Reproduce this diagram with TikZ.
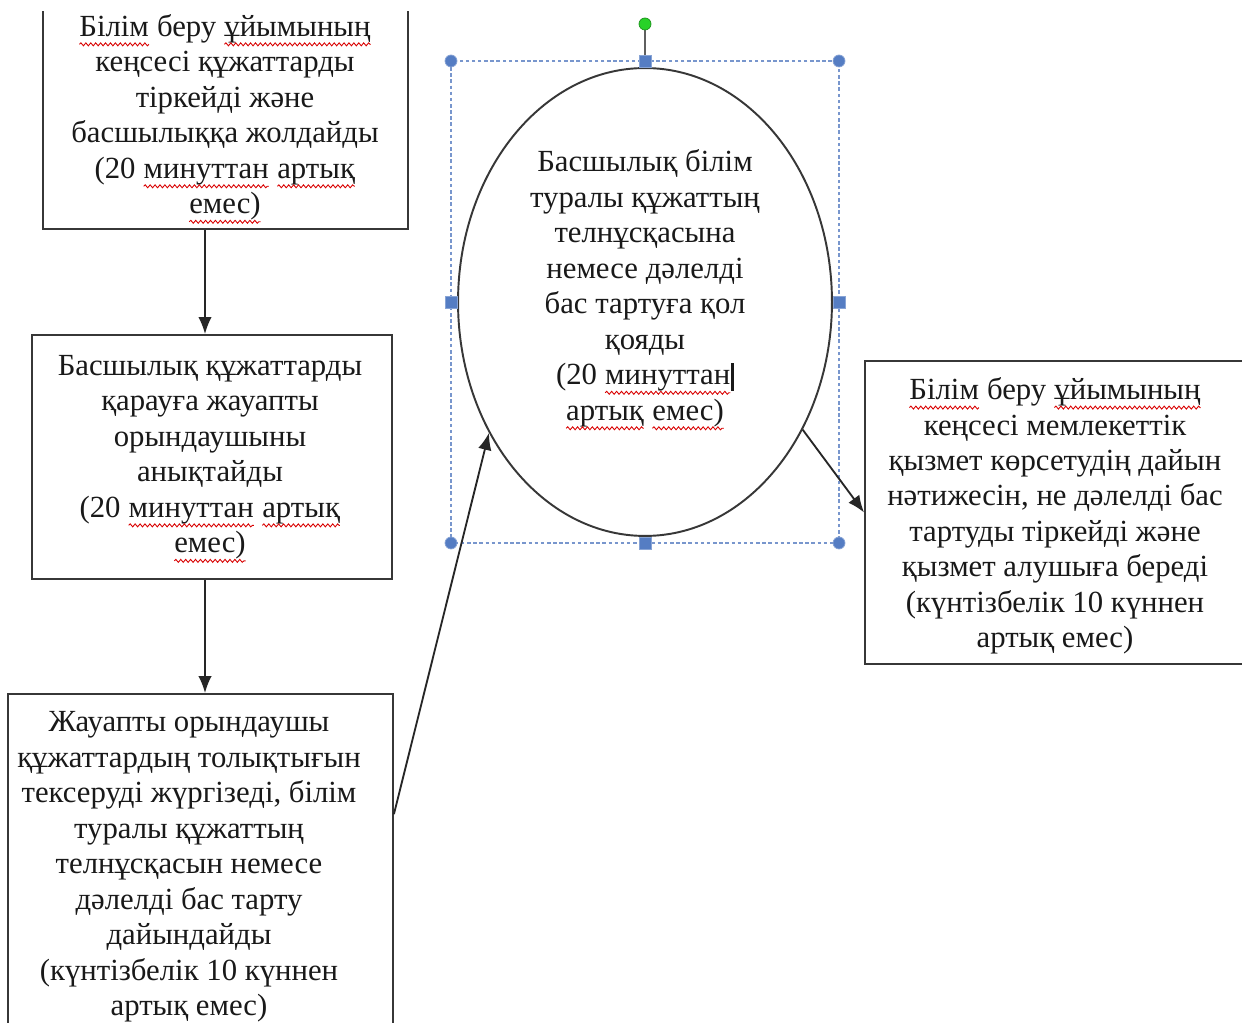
\documentclass[tikz,border=0pt]{standalone}
\usepackage{fontspec}
\setmainfont{Liberation Serif}
\usetikzlibrary{arrows.meta,positioning,shapes.geometric,decorations.pathmorphing}
\newcommand{\spell}[1]{\tikz[baseline=(w.base), x=1pt, y=1pt]{\node[inner sep=0pt, outer sep=0pt, anchor=base] (w) {#1};
  \draw[red!85!black, line width=0.5pt, decorate, decoration={snake, amplitude=0.85pt, segment length=2.8pt}]
    ([yshift=-4.6pt]w.base west) -- ([yshift=-4.6pt]w.base east);}}
\newcommand{\caret}{\rule[-3.5pt]{1.8pt}{16pt}}
\definecolor{selblue}{RGB}{120,150,205}
\definecolor{handleblue}{RGB}{85,125,195}
\definecolor{rotgreen}{RGB}{40,210,40}
\definecolor{edgegray}{RGB}{55,55,55}

\begin{document}
\begin{tikzpicture}[x=0.02cm,y=-0.02cm,
  box/.style={draw=edgegray, line width=1.1pt, rectangle, inner sep=0pt},
  txt/.style={align=center, inner sep=0pt, text=black!90, font=\fontsize{17.5}{20.2}\selectfont},
  arr/.style={draw=black!85, line width=1.05pt, -{Latex[length=3.4mm,width=2.7mm]}},
  selbox/.style={draw=selblue, line width=0.6pt, dash pattern=on 2pt off 1.5pt},
  handle/.style={fill=handleblue, draw=handleblue!70!white, line width=0.4pt}]
  \useasboundingbox (0,0) rectangle (1242,1023);
  \fill[white] (0,0) rectangle (1242,1023);
  \begin{scope}
    \clip (0,12) rectangle (1242,1023);
    %boxes
    \node[box, minimum width=7.3cm, minimum height=4.98cm] (b1) at (225.5,104.5) {};
    \node[box, minimum width=7.2cm, minimum height=4.88cm] (b2) at (212,457) {};
    \node[box, minimum width=7.7cm, minimum height=7.32cm] (b3) at (200.5,877) {};
    \node[box, minimum width=7.6cm, minimum height=6.06cm] (b4) at (1055,512.5) {};
    \node[draw=edgegray, line width=1.1pt, ellipse, inner sep=0pt,
      minimum width=7.48cm, minimum height=9.36cm] (ell) at (645,302) {};
    %selection frame
    \draw[selbox] (451,61) rectangle (839,543);
    \draw[edgegray!80, line width=0.6pt] (645,61) -- (645,24);
    \filldraw[fill=rotgreen, draw=rotgreen!70!black, line width=0.4pt] (645,24) circle (0.12cm);
    \foreach \p in {(451,61),(839,61),(451,543),(839,543)}
      \filldraw[handle] \p circle (0.12cm);
    \foreach \p in {(645,61),(451,302),(839,302),(645,543)}
      \filldraw[handle] \p ++(-6,-6) rectangle ++(12,12);
    %texts
    \node[txt] (t1) at (225,119) {\spell{Білім} беру \spell{ұйымының}\\ кеңсесі құжаттарды\\ тіркейді және\\ басшылыққа жолдайды\\ (20 \spell{минуттан} \spell{артық}\\ \spell{емес)}};
    \node[txt] (t2) at (210,459) {Басшылық құжаттарды\\ қарауға жауапты\\ орындаушыны\\ анықтайды\\ (20 \spell{минуттан} \spell{артық}\\ \spell{емес)}};
    \node[txt] (t3) at (189,867) {Жауапты орындаушы\\ құжаттардың толықтығын\\ тексеруді жүргізеді, білім\\ туралы құжаттың\\ телнұсқасын немесе\\ дәлелді бас тарту\\ дайындайды\\ (күнтізбелік 10 күннен\\ артық емес)};
    \node[txt] (te) at (645,290) {Басшылық білім\\ туралы құжаттың\\ телнұсқасына\\ немесе дәлелді\\ бас тартуға қол\\ қояды\\ (20 \spell{минуттан}\caret\\ \spell{артық} \spell{емес)}};
    \node[txt] (t4) at (1055,516) {\spell{Білім} беру \spell{ұйымының}\\ кеңсесі мемлекеттік\\ қызмет көрсетудің дайын\\ нәтижесін, не дәлелді бас\\ тартуды тіркейді және\\ қызмет алушыға береді\\ (күнтізбелік 10 күннен\\ артық емес)};
    %arrows
    \coordinate (c1) at (205,0);
    \draw[arr] (b1.south -| c1) -- (b2.north -| c1);
    \draw[arr] (b2.south -| c1) -- (b3.north -| c1);
    \draw[arr] (b3.18) -- (ell.220);
    \draw[arr] (ell.321) -- (b4.west);
  \end{scope}
\end{tikzpicture}
\end{document}
